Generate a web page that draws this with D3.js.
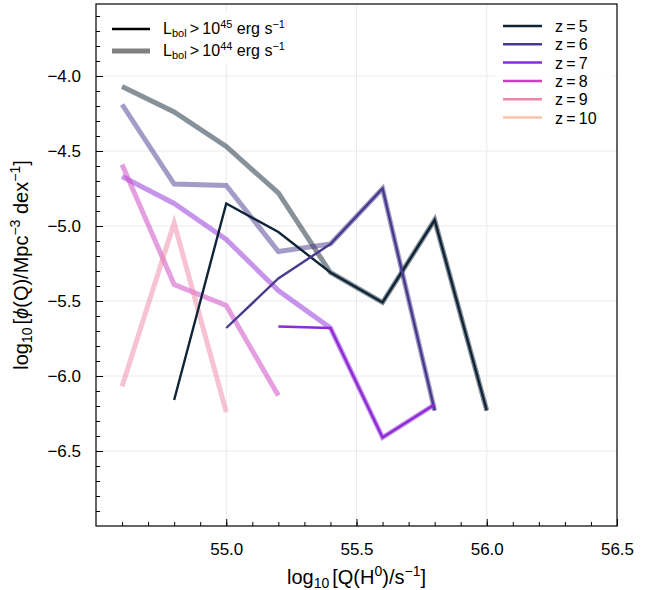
<!DOCTYPE html>
<html>
<head>
<meta charset="utf-8">
<script src="https://cdn.jsdelivr.net/npm/d3@7"></script>
<style>
  body { margin: 0; background: #fff; }
  text { font-family: "Liberation Sans", Arial, sans-serif; fill: #000; }
</style>
</head>
<body>
<div id="chart"></div>
<script>
// log10 Q(H0) bins
const q_bins = [54.6, 54.8, 55.0, 55.2, 55.4, 55.6, 55.8, 56.0];
const z_labels = [5, 6, 7, 8, 9, 10];
const z_colors = ["#0f2436", "#4a3a8e", "#8e2ad6", "#cc40c4", "#ef86a6", "#fbc3a6"];

// L_bol > 1e45 (thin lines)
const bright_z5 = [null, -6.16, -4.85, -5.04, -5.31, -5.51, -4.96, -6.23];
const bright_z6 = [null, null, -5.68, -5.35, -5.12, -4.75, -6.23, null];
const bright_z7 = [null, null, null, -5.67, -5.68, -6.41, -6.19, null];

// L_bol > 1e44 (thick lines)
const faint_z5 = [-4.07, -4.24, -4.47, -4.78, -5.31, -5.51, -4.96, -6.23];
const faint_z6 = [-4.19, -4.72, -4.73, -5.17, -5.12, -4.75, -6.23, null];
const faint_z7 = [-4.67, -4.85, -5.09, -5.43, -5.68, -6.41, -6.19, null];
const faint_z8 = [-4.59, -5.39, -5.53, -6.13, null, null, null, null];
const faint_z9 = [-6.07, -4.98, -6.24, null, null, null, null, null];

const x_ticks = [55.0, 55.5, 56.0, 56.5];
const y_ticks = [-4.0, -4.5, -5.0, -5.5, -6.0, -6.5];

const W = 654, H = 590;
const margins = { top: 4, right: 37, bottom: 64, left: 96 };

const x_scale = d3.scaleLinear().domain([54.5, 56.5]).range([margins.left, W - margins.right]);
const y_scale = d3.scaleLinear().domain([-7.0, -3.52]).range([H - margins.bottom, margins.top]);

const svg = d3.select("#chart").append("svg")
  .attr("width", W).attr("height", H);

const x0 = margins.left, x1 = W - margins.right;
const y0 = H - margins.bottom, y1 = margins.top;

// grid
const grid = svg.append("g").attr("stroke", "#ebebeb").attr("stroke-width", 1);
x_ticks.slice(0, 3).forEach(v => {
  grid.append("line").attr("x1", x_scale(v)).attr("x2", x_scale(v)).attr("y1", y0).attr("y2", y1);
});
y_ticks.forEach(v => {
  grid.append("line").attr("y1", y_scale(v)).attr("y2", y_scale(v)).attr("x1", x0).attr("x2", x1);
});

const line = d3.line()
  .defined(d => d[1] !== null)
  .x(d => x_scale(d[0]))
  .y(d => y_scale(d[1]));

const pair = arr => q_bins.map((q, i) => [q, arr[i]]);

const faint = [faint_z5, faint_z6, faint_z7, faint_z8, faint_z9];
const bright = [bright_z5, bright_z6, bright_z7];

const plot = svg.append("g");
faint.forEach((s, i) => {
  plot.append("path").datum(pair(s))
    .attr("d", line).attr("fill", "none")
    .attr("stroke", z_colors[i]).attr("stroke-opacity", 0.5)
    .attr("stroke-width", 5).attr("stroke-linejoin", "miter");
});
bright.forEach((s, i) => {
  plot.append("path").datum(pair(s))
    .attr("d", line).attr("fill", "none")
    .attr("stroke", z_colors[i])
    .attr("stroke-width", 2.4).attr("stroke-linejoin", "miter");
});

// axes (ticks inward, left and bottom)
const x_axis = d3.axisBottom(x_scale).tickValues(x_ticks).tickSize(-7).tickPadding(17)
  .tickFormat(d3.format(".1f"));
const x_minor = d3.axisBottom(x_scale).tickValues(d3.range(54.6, 56.45, 0.1)).tickSize(-4).tickFormat("");
const y_axis = d3.axisLeft(y_scale).tickValues(y_ticks).tickSize(-7).tickPadding(15)
  .tickFormat(d => d3.format(".1f")(d).replace("-", "\u2212"));
const y_minor = d3.axisLeft(y_scale).tickValues(d3.range(-6.9, -3.55, 0.1)).tickSize(-4).tickFormat("");

function style_axis(g) {
  g.select(".domain").remove();
  g.selectAll("line").attr("stroke", "#000").attr("stroke-width", 1);
  g.selectAll("text").attr("font-size", 17).attr("fill", "#000")
    .style("font-family", "'Liberation Sans', Arial, sans-serif");
}
svg.append("g").attr("transform", `translate(0,${y0})`).call(x_minor).call(style_axis);
svg.append("g").attr("transform", `translate(0,${y0})`).call(x_axis).call(style_axis);
svg.append("g").attr("transform", `translate(${x0},0)`).call(y_minor).call(style_axis);
svg.append("g").attr("transform", `translate(${x0},0)`).call(y_axis).call(style_axis);

// frame
svg.append("rect").attr("x", x0).attr("y", y1).attr("width", x1 - x0).attr("height", y0 - y1)
  .attr("fill", "none").attr("stroke", "#000").attr("stroke-width", 1.2);

// axis titles
const xt = svg.append("text").attr("x", (x0 + x1) / 2).attr("y", 584)
  .attr("text-anchor", "middle").attr("font-size", 20);
xt.append("tspan").text("log");
xt.append("tspan").text("10").attr("font-size", 14).attr("dy", 4);
xt.append("tspan").text("[Q(H").attr("dy", -4).attr("dx", 3);
xt.append("tspan").text("0").attr("font-size", 14).attr("dy", -8);
xt.append("tspan").text(")/s").attr("dy", 8);
xt.append("tspan").text("\u22121").attr("font-size", 14).attr("dy", -8);
xt.append("tspan").text("]").attr("dy", 8);

const yt = svg.append("text").attr("transform", `translate(28,${(y0 + y1) / 2}) rotate(-90)`)
  .attr("text-anchor", "middle").attr("font-size", 20);
yt.append("tspan").text("log");
yt.append("tspan").text("10").attr("font-size", 14).attr("dy", 4);
yt.append("tspan").text("[").attr("dy", -4).attr("dx", 3);
yt.append("tspan").text("\u03d5").attr("font-style", "italic");
yt.append("tspan").text("(Q)/Mpc");
yt.append("tspan").text("\u22123").attr("font-size", 14).attr("dy", -8);
yt.append("tspan").text(" dex").attr("dy", 8);
yt.append("tspan").text("\u22121").attr("font-size", 14).attr("dy", -8);
yt.append("tspan").text("]").attr("dy", 8);

// left legend (line widths)
const leg1 = svg.append("g");
leg1.append("rect").attr("x", 104).attr("y", 12).attr("width", 205).attr("height", 52)
  .attr("fill", "#fff").attr("fill-opacity", 0.8);
[["45", "#000", 2.4, 29], ["44", "#808080", 5, 51]].forEach(([p, c, w, y]) => {
  leg1.append("line").attr("x1", 112).attr("x2", 150).attr("y1", y).attr("y2", y)
    .attr("stroke", c).attr("stroke-width", w);
  const t = leg1.append("text").attr("x", 163).attr("y", y + 5).attr("font-size", 16);
  t.append("tspan").text("L");
  t.append("tspan").text("bol").attr("font-size", 11).attr("dy", 3);
  t.append("tspan").text("\u2009>\u200910").attr("dy", -3);
  t.append("tspan").text(p).attr("font-size", 11).attr("dy", -6);
  t.append("tspan").text(" erg s").attr("dy", 6);
  t.append("tspan").text("\u22121").attr("font-size", 11).attr("dy", -6);
});

// right legend (redshift)
const leg2 = svg.append("g");
leg2.append("rect").attr("x", 496).attr("y", 14).attr("width", 116).attr("height", 114)
  .attr("fill", "#fff").attr("fill-opacity", 0.8);
z_labels.forEach((z, i) => {
  const y = 26 + i * 18.3;
  leg2.append("line").attr("x1", 503).attr("x2", 542).attr("y1", y).attr("y2", y)
    .attr("stroke", z_colors[i]).attr("stroke-width", 2.5);
  leg2.append("text").attr("x", 555).attr("y", y + 6).attr("font-size", 16)
    .text("z\u2009=\u2009" + z);
});
</script>
</body>
</html>
